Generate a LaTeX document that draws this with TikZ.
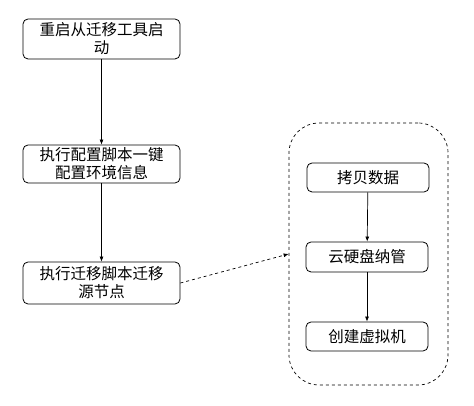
\documentclass[tikz,border=0pt]{standalone}
\usepackage{fontspec}
\setmainfont{Noto Sans CJK SC}
\usetikzlibrary{arrows.meta}
\begin{document}
\begin{tikzpicture}[x=1pt,y=1pt,
  stepbox/.style={draw, rounded corners=5pt, line width=0.8pt, align=center, font=\fontsize{15.5}{18}\selectfont, inner sep=0pt},
  conn/.style={-{Latex[length=5pt,width=4pt]}, line width=0.7pt}]
\useasboundingbox (0,0) rectangle (474,406);
\node[stepbox, minimum width=157pt, minimum height=40pt] (a) at (101.5,367) {重启从迁移工具启\\动};
\node[stepbox, minimum width=157pt, minimum height=38pt] (b) at (101.5,242) {执行配置脚本一键\\配置环境信息};
\node[stepbox, minimum width=157pt, minimum height=42pt] (c) at (101.5,123) {执行迁移脚本迁移\\源节点};
\node[draw, dashed, rounded corners=30pt, line width=0.7pt, minimum width=159pt, minimum height=262pt] (g) at (368.5,152) {};
\node[stepbox, minimum width=122pt, minimum height=29pt] (d) at (368,228.5) {拷贝数据};
\node[stepbox, minimum width=122pt, minimum height=30pt] (e) at (367,149) {云硬盘纳管};
\node[stepbox, minimum width=122pt, minimum height=29pt] (f) at (367,69.5) {创建虚拟机};
\draw[conn] (a) -- (b);
\draw[conn] (b) -- (c);
\draw[conn] (d) -- (e);
\draw[conn] (e) -- (f);
\draw[conn, dashed] (c.east) -- (g.west);
\end{tikzpicture}
\end{document}
